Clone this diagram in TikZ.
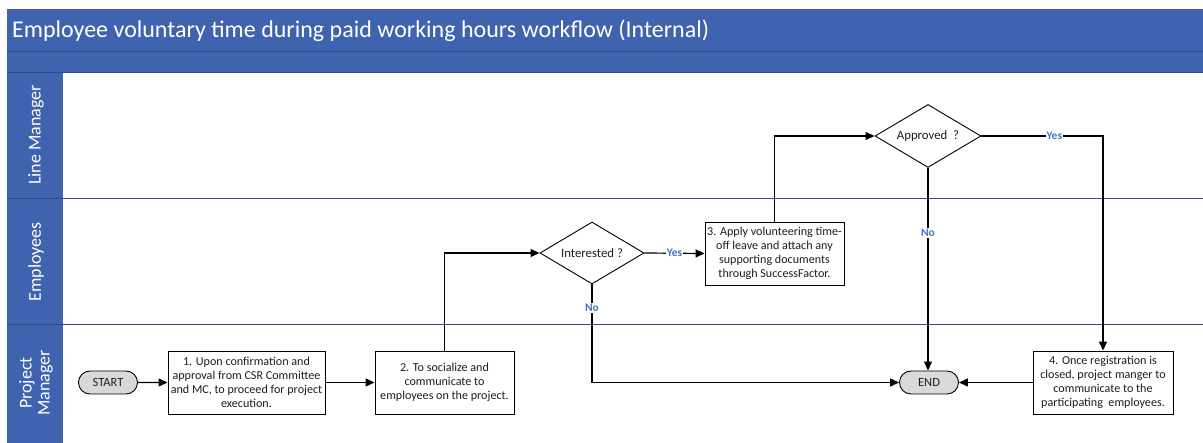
\documentclass[tikz,border=0pt]{standalone}
\usepackage{fontspec}
\setmainfont{Carlito}
\usetikzlibrary{shapes.geometric,shapes.misc,arrows.meta}
\definecolor{hdr}{RGB}{63,99,174}
\definecolor{hdrline}{RGB}{47,75,130}
\definecolor{lbl}{RGB}{68,114,196}
\definecolor{termfill}{RGB}{217,217,217}
\definecolor{txt}{RGB}{30,30,30}
\begin{document}
\begin{tikzpicture}[x=1pt,y=-1pt,
  procbox/.style={draw=black,line width=0.9pt,fill=white,align=center,inner sep=0pt,
    minimum height=63pt,font=\fontsize{12.1}{14}\selectfont,text=txt},
  term/.style={draw=black,line width=0.9pt,fill=termfill,rounded rectangle,
    minimum width=59pt,minimum height=23pt,inner sep=0pt,font=\fontsize{12.5}{14}\selectfont,text=txt},
  decision/.style={draw=black,line width=0.9pt,fill=white,diamond,aspect=1.7,inner sep=0pt,
    font=\fontsize{12.8}{14}\selectfont,text=txt},
  arr/.style={draw=black,line width=1.2pt,-{Triangle[length=9pt,width=8pt]}},
  yn/.style={fill=white,inner sep=1pt,text=lbl,font=\bfseries\fontsize{11.5}{13}\selectfont},
  lanetitle/.style={rotate=90,text=white,align=center,font=\fontsize{18}{19}\selectfont},
  laneline/.style={draw=hdrline,line width=1pt}
]
\useasboundingbox (0,0) rectangle (1203,443);
% header
\fill[hdr] (7,9) rectangle (1203,72);
\fill[hdr] (7,72) rectangle (63,443);
\draw[hdrline,line width=0.8pt] (7,51) -- (1203,51);
\draw[hdrline,line width=0.8pt] (7,72) -- (1203,72);
\node[anchor=west,text=white,font=\fontsize{24}{28}\selectfont,inner sep=0pt] (title) at (12,31) {Employee voluntary time during paid working hours workflow (Internal)};
% lanes
\draw[laneline] (7,199) -- (1203,199);
\draw[laneline] (7,325) -- (1203,325);
\node[lanetitle] (lm) at (36,135) {Line Manager};
\node[lanetitle] (em) at (36,262) {Employees};
\node[lanetitle,font=\fontsize{18}{18}\selectfont] (pm) at (36,383) {Project\\Manager};
% nodes
\node[term] (start) at (108,382.5) {START};
\node[procbox,minimum width=157pt] (b1) at (246.5,382.5) {1. Upon confirmation and\\approval from CSR Committee\\and MC, to proceed for project\\execution.};
\node[procbox,minimum width=139pt] (b2) at (444.5,382.5) {2. To socialize and\\communicate to\\employees on the project.};
\node[decision,minimum width=104pt,minimum height=62pt] (int) at (592,253) {Interested ?};
\node[procbox,minimum width=139pt] (b3) at (774.5,253.5) {3. Apply volunteering time-\\off leave and attach any\\supporting documents\\through SuccessFactor.};
\node[decision,minimum width=106pt,minimum height=63pt] (appr) at (928,136) {Approved~~?};
\node[term] (end) at (929,382.5) {END};
\node[procbox,minimum width=140pt] (b4) at (1103,382.5) {4. Once registration is\\closed, project manger to\\communicate to the\\participating~ employees.};
% connectors
\draw[arr] (start) -- (b1);
\draw[arr] (b1) -- (b2);
\draw[arr] (b2.north) |- (int.west);
\draw[arr] (int.east) -- node[yn] {Yes} (b3.west);
\draw[arr] (int.south) |- node[yn,pos=0.12] {No} (end.west);
\draw[arr] (b3.north) |- (appr.west);
\draw[arr] (appr.south) -- node[yn,pos=0.32] {No} (appr.south |- end.north);
\draw[arr] (appr.east) -| node[yn,pos=0.3] {Yes} (b4.north);
\draw[arr] (b4.west) -- (end.east);
\end{tikzpicture}
\end{document}
